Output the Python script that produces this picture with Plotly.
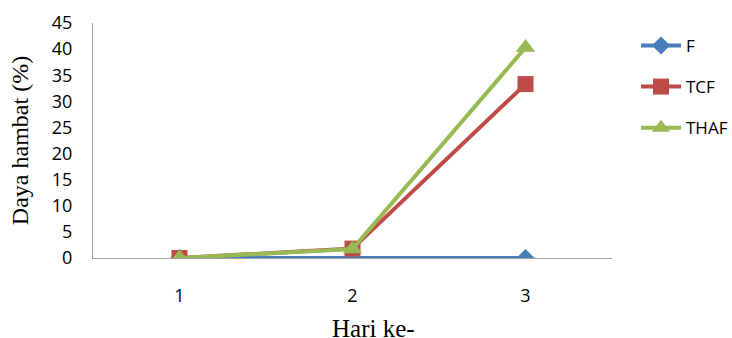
import plotly.graph_objects as go

days = ["1", "2", "3"]
F = [0, 0, 0]
TCF = [0, 1.8, 33.3]
THAF = [0, 1.7, 40.3]

fig = go.Figure()
fig.add_trace(go.Scatter(x=days, y=F, name="F", mode="lines+markers", legendgroup="a",
                         line=dict(color="#4a7ebb", width=4),
                         marker=dict(symbol="diamond", size=14, color="#4a7ebb")))
fig.add_trace(go.Scatter(x=days, y=TCF, name="TCF", mode="lines+markers", legendgroup="b",
                         line=dict(color="#be4b48", width=4),
                         marker=dict(symbol="square", size=16, color="#be4b48")))
fig.add_trace(go.Scatter(x=days, y=THAF, name="THAF", mode="lines+markers", legendgroup="c",
                         line=dict(color="#98b954", width=4),
                         marker=dict(symbol="triangle-up", size=17, color="#98b954")))

fig.update_layout(
    width=732, height=338,
    margin=dict(l=93, r=120, t=23, b=80, autoexpand=False),
    paper_bgcolor="white", plot_bgcolor="white",
    font=dict(family="Open Sans", size=18, color="black"),
    legend=dict(x=1 + 24 / 519, y=0.979, xanchor="left", yanchor="top", tracegroupgap=16,
                font=dict(family="Open Sans", size=17), itemwidth=40),
    xaxis=dict(type="category", range=[-0.5, 2.5], showgrid=False, showline=True, automargin=False,
               linecolor="#a0a0a0", linewidth=1, ticks="", ticklabelstandoff=21),
    yaxis=dict(range=[0, 45], dtick=5, showgrid=False, showline=True, zeroline=False, automargin=False,
               linecolor="#a0a0a0", linewidth=1, ticks="", ticklabelstandoff=16,
               title=dict(text="Daya hambat (%)", font=dict(family="Liberation Serif", size=24), standoff=16)),
    annotations=[dict(text="Hari ke-", xref="paper", yref="paper", x=(373 - 93) / 519, y=-0.234,
                      xanchor="center", yanchor="top", showarrow=False,
                      font=dict(family="Liberation Serif", size=25, color="black"))],
)
fig.write_html("out.html", config={"displayModeBar": False},
               post_script="document.body.style.margin='0';")
